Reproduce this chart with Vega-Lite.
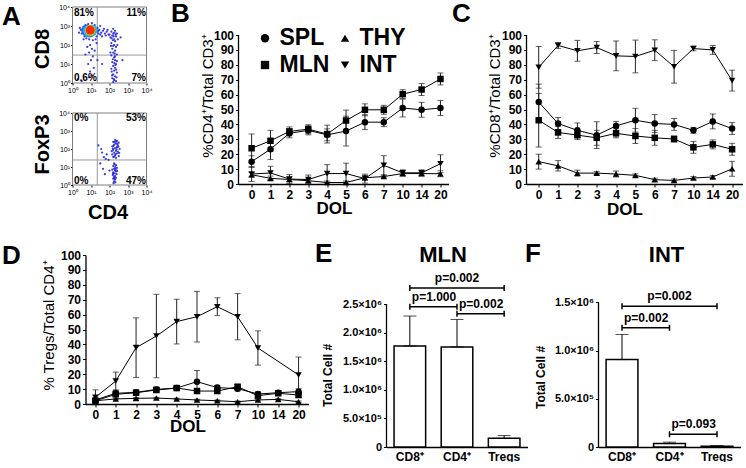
{
"$schema": "https://vega.github.io/schema/vega-lite/v6.json",
"padding": {"left": 1.5, "top": 1, "right": 0, "bottom": 0},
"background": "white",
"config": {
  "view": {"stroke": null},
  "font": "Liberation Sans",
  "axis": {"labelFont": "Liberation Sans", "titleFont": "Liberation Sans", "labelColor": "black", "titleColor": "black", "domainColor": "black", "tickColor": "black", "grid": false, "labelFontSize": 12, "labelFontWeight": "bold", "tickSize": 3, "labelPadding": 2, "labelOverlap": false, "labelFlush": false, "domainWidth": 1.3, "tickWidth": 1},
  "title": {"anchor": "start", "frame": "group", "offset": 0, "baseline": "alphabetic", "fontSize": 26, "fontWeight": "bold", "font": "Liberation Sans", "color": "black"},
  "text": {"font": "Liberation Sans", "color": "black"}
},
"datasets": {
  "pct": [
    {"p":"B","t":"SPL","d":0,"v":15,"e":4},{"p":"B","t":"SPL","d":1,"v":23.4,"e":7},{"p":"B","t":"SPL","d":2,"v":34,"e":3},{"p":"B","t":"SPL","d":3,"v":36,"e":3},{"p":"B","t":"SPL","d":4,"v":33,"e":4},{"p":"B","t":"SPL","d":5,"v":35.5,"e":10},{"p":"B","t":"SPL","d":6,"v":41.5,"e":5},{"p":"B","t":"SPL","d":7,"v":41.5,"e":3},{"p":"B","t":"SPL","d":10,"v":51,"e":6},{"p":"B","t":"SPL","d":14,"v":49.8,"e":5},{"p":"B","t":"SPL","d":20,"v":51,"e":5},
    {"p":"B","t":"MLN","d":0,"v":24,"e":9.5},{"p":"B","t":"MLN","d":1,"v":29,"e":7},{"p":"B","t":"MLN","d":2,"v":35.3,"e":3},{"p":"B","t":"MLN","d":3,"v":36.8,"e":3},{"p":"B","t":"MLN","d":4,"v":33.5,"e":6},{"p":"B","t":"MLN","d":5,"v":42.6,"e":7},{"p":"B","t":"MLN","d":6,"v":49.8,"e":4},{"p":"B","t":"MLN","d":7,"v":49.8,"e":3},{"p":"B","t":"MLN","d":10,"v":60.3,"e":3},{"p":"B","t":"MLN","d":14,"v":63.4,"e":4},{"p":"B","t":"MLN","d":20,"v":70.5,"e":4},
    {"p":"B","t":"THY","d":0,"v":6.2,"e":1.5},{"p":"B","t":"THY","d":1,"v":3.8,"e":1.5},{"p":"B","t":"THY","d":2,"v":3,"e":1.5},{"p":"B","t":"THY","d":3,"v":2.2,"e":1},{"p":"B","t":"THY","d":4,"v":1,"e":1},{"p":"B","t":"THY","d":5,"v":1,"e":1},{"p":"B","t":"THY","d":6,"v":4.2,"e":1.5},{"p":"B","t":"THY","d":7,"v":5,"e":1},{"p":"B","t":"THY","d":10,"v":7,"e":1},{"p":"B","t":"THY","d":14,"v":7,"e":1},{"p":"B","t":"THY","d":20,"v":6.9,"e":2},
    {"p":"B","t":"INT","d":0,"v":6.7,"e":5},{"p":"B","t":"INT","d":1,"v":7.4,"e":4.5},{"p":"B","t":"INT","d":2,"v":3.3,"e":3},{"p":"B","t":"INT","d":3,"v":3,"e":3},{"p":"B","t":"INT","d":4,"v":7,"e":6},{"p":"B","t":"INT","d":5,"v":7,"e":7},{"p":"B","t":"INT","d":6,"v":3.6,"e":3},{"p":"B","t":"INT","d":7,"v":12.5,"e":6.5},{"p":"B","t":"INT","d":10,"v":7.5,"e":2},{"p":"B","t":"INT","d":14,"v":7.5,"e":2},{"p":"B","t":"INT","d":20,"v":13.6,"e":6},
    {"p":"C","t":"INT","d":0,"v":78.3,"e":14},{"p":"C","t":"INT","d":1,"v":93,"e":2},{"p":"C","t":"INT","d":2,"v":89.4,"e":7},{"p":"C","t":"INT","d":3,"v":91.6,"e":4},{"p":"C","t":"INT","d":4,"v":86,"e":10},{"p":"C","t":"INT","d":5,"v":85.6,"e":11},{"p":"C","t":"INT","d":6,"v":89.8,"e":7},{"p":"C","t":"INT","d":7,"v":78.7,"e":11},{"p":"C","t":"INT","d":10,"v":90.9,"e":1.5},{"p":"C","t":"INT","d":14,"v":90,"e":3},{"p":"C","t":"INT","d":20,"v":69.4,"e":7},
    {"p":"C","t":"SPL","d":0,"v":55,"e":12},{"p":"C","t":"SPL","d":1,"v":40.6,"e":4},{"p":"C","t":"SPL","d":2,"v":36,"e":5},{"p":"C","t":"SPL","d":3,"v":32.8,"e":9},{"p":"C","t":"SPL","d":4,"v":39,"e":3},{"p":"C","t":"SPL","d":5,"v":42.8,"e":8},{"p":"C","t":"SPL","d":6,"v":40.6,"e":6},{"p":"C","t":"SPL","d":7,"v":40,"e":4},{"p":"C","t":"SPL","d":10,"v":36,"e":2},{"p":"C","t":"SPL","d":14,"v":42,"e":5},{"p":"C","t":"SPL","d":20,"v":37.2,"e":4},
    {"p":"C","t":"MLN","d":0,"v":42.8,"e":18},{"p":"C","t":"MLN","d":1,"v":34.6,"e":4},{"p":"C","t":"MLN","d":2,"v":32.8,"e":3},{"p":"C","t":"MLN","d":3,"v":31,"e":5},{"p":"C","t":"MLN","d":4,"v":34,"e":3},{"p":"C","t":"MLN","d":5,"v":32.2,"e":5},{"p":"C","t":"MLN","d":6,"v":31,"e":5},{"p":"C","t":"MLN","d":7,"v":30.2,"e":2},{"p":"C","t":"MLN","d":10,"v":24.6,"e":4},{"p":"C","t":"MLN","d":14,"v":26.6,"e":3},{"p":"C","t":"MLN","d":20,"v":23.3,"e":4},
    {"p":"C","t":"THY","d":0,"v":15,"e":5},{"p":"C","t":"THY","d":1,"v":12.2,"e":3.5},{"p":"C","t":"THY","d":2,"v":7.3,"e":2},{"p":"C","t":"THY","d":3,"v":7.3,"e":1},{"p":"C","t":"THY","d":4,"v":6.7,"e":2},{"p":"C","t":"THY","d":5,"v":5.8,"e":1},{"p":"C","t":"THY","d":6,"v":2.9,"e":1},{"p":"C","t":"THY","d":7,"v":2.4,"e":1},{"p":"C","t":"THY","d":10,"v":4,"e":1},{"p":"C","t":"THY","d":14,"v":4.7,"e":1},{"p":"C","t":"THY","d":20,"v":10.2,"e":5},
    {"p":"D","t":"INT","d":0,"v":4.5,"e":5},{"p":"D","t":"INT","d":1,"v":15.4,"e":6},{"p":"D","t":"INT","d":2,"v":37.8,"e":20},{"p":"D","t":"INT","d":3,"v":45.6,"e":28},{"p":"D","t":"INT","d":4,"v":55.3,"e":15},{"p":"D","t":"INT","d":5,"v":58.6,"e":17},{"p":"D","t":"INT","d":6,"v":65.3,"e":6},{"p":"D","t":"INT","d":7,"v":58.6,"e":15.5},{"p":"D","t":"INT","d":10,"v":37.6,"e":11.5},{"p":"D","t":"INT","d":20,"v":19.5,"e":12},
    {"p":"D","t":"SPL","d":0,"v":2.7,"e":1},{"p":"D","t":"SPL","d":1,"v":7.2,"e":2},{"p":"D","t":"SPL","d":2,"v":7.8,"e":1.5},{"p":"D","t":"SPL","d":3,"v":9.8,"e":1.5},{"p":"D","t":"SPL","d":4,"v":10.7,"e":1.5},{"p":"D","t":"SPL","d":5,"v":15,"e":7.5},{"p":"D","t":"SPL","d":6,"v":11,"e":1.5},{"p":"D","t":"SPL","d":7,"v":10.3,"e":1.5},{"p":"D","t":"SPL","d":10,"v":6.7,"e":1.5},{"p":"D","t":"SPL","d":14,"v":7.6,"e":1.5},{"p":"D","t":"SPL","d":20,"v":8.3,"e":2},
    {"p":"D","t":"MLN","d":0,"v":2.2,"e":1},{"p":"D","t":"MLN","d":1,"v":6.5,"e":1.5},{"p":"D","t":"MLN","d":2,"v":7.6,"e":1},{"p":"D","t":"MLN","d":3,"v":9.4,"e":1.5},{"p":"D","t":"MLN","d":4,"v":10.7,"e":1},{"p":"D","t":"MLN","d":5,"v":8.7,"e":1.5},{"p":"D","t":"MLN","d":6,"v":8.7,"e":1.5},{"p":"D","t":"MLN","d":7,"v":11.6,"e":1.5},{"p":"D","t":"MLN","d":10,"v":5.6,"e":1},{"p":"D","t":"MLN","d":14,"v":7.2,"e":1},{"p":"D","t":"MLN","d":20,"v":6,"e":1.5},
    {"p":"D","t":"THY","d":0,"v":2.2,"e":0.5},{"p":"D","t":"THY","d":1,"v":3.4,"e":0.5},{"p":"D","t":"THY","d":2,"v":3.8,"e":0.5},{"p":"D","t":"THY","d":3,"v":4,"e":0.5},{"p":"D","t":"THY","d":4,"v":3.4,"e":0.5},{"p":"D","t":"THY","d":5,"v":2.7,"e":0.5},{"p":"D","t":"THY","d":6,"v":2.2,"e":0.5},{"p":"D","t":"THY","d":7,"v":1.5,"e":0.5},{"p":"D","t":"THY","d":10,"v":2.7,"e":0.5},{"p":"D","t":"THY","d":14,"v":3.1,"e":0.5},{"p":"D","t":"THY","d":20,"v":1.5,"e":0.5}
  ],
  "bars": [
    {"p":"E","cell":"CD8⁺","m":1766000,"hi":2290000},{"p":"E","cell":"CD4⁺","m":1750000,"hi":2230000},{"p":"E","cell":"Tregs","m":152000,"hi":200000},
    {"p":"F","cell":"CD8⁺","m":907000,"hi":1167000},{"p":"F","cell":"CD4⁺","m":35000,"hi":50000},{"p":"F","cell":"Tregs","m":8000,"hi":14000}
  ],
  "brk": [
    {"p":"E","from":"CD8⁺","to":"Tregs","y":2780000,"label":"p=0.002","at":"CD4⁺","ta":"c"},
    {"p":"E","from":"CD8⁺","to":"CD4⁺","y":2450000,"label":"p=1.000","at":"CD8⁺","ta":"l"},
    {"p":"E","from":"CD4⁺","to":"Tregs","y":2330000,"label":"p=0.002","at":"CD4⁺","ta":"l"},
    {"p":"F","from":"CD8⁺","to":"Tregs","y":1460000,"label":"p=0.002","at":"CD4⁺","ta":"c"},
    {"p":"F","from":"CD8⁺","to":"CD4⁺","y":1236000,"label":"p=0.002","at":"CD8⁺","ta":"l"},
    {"p":"F","from":"CD4⁺","to":"Tregs","y":132000,"label":"p=0.093","at":"CD4⁺","ta":"l"}
  ],
  "heads": [{"p":"E","name":"MLN"},{"p":"F","name":"INT"}],
  "atitles": [{"plot":"top","ttl":"CD8"},{"plot":"bot","ttl":"FoxP3"}],
  "gates": [
    {"plot":"top","c":"TL","pct":"81%"},{"plot":"top","c":"TR","pct":"11%"},{"plot":"top","c":"BL","pct":"0.6%"},{"plot":"top","c":"BR","pct":"7%"},
    {"plot":"bot","c":"TL","pct":"0%"},{"plot":"bot","c":"TR","pct":"53%"},{"plot":"bot","c":"BL","pct":"0%"},{"plot":"bot","c":"BR","pct":"47%"}
  ],
  "blob": [
    {"x":0.93,"y":2.72,"d":1},{"x":0.8,"y":2.76,"d":1},{"x":0.88,"y":2.74,"d":2},{"x":1.04,"y":2.77,"d":2},{"x":0.97,"y":2.76,"d":3},{"x":0.96,"y":2.77,"d":4},{"x":0.96,"y":2.78,"d":5}
  ],
  "ftop": [
    {"x":2.1,"y":2.7},{"x":2.2,"y":2.6},{"x":2.3,"y":2.75},{"x":2.15,"y":2.5},{"x":2.35,"y":2.45},{"x":2.25,"y":2.3},{"x":2.05,"y":2.4},{"x":2.4,"y":2.6},{"x":2.2,"y":2.85},{"x":2.3,"y":2.2},{"x":2.1,"y":2.1},{"x":2.25,"y":2.0},{"x":2.35,"y":1.9},{"x":2.15,"y":1.8},{"x":2.3,"y":1.7},{"x":2.2,"y":1.6},{"x":2.4,"y":1.5},{"x":2.1,"y":1.45},{"x":2.25,"y":1.35},{"x":2.3,"y":1.2},{"x":2.15,"y":1.1},{"x":2.35,"y":1.0},{"x":2.2,"y":0.9},{"x":2.3,"y":0.8},{"x":2.1,"y":0.75},{"x":2.25,"y":0.65},{"x":2.4,"y":0.55},{"x":2.2,"y":0.45},{"x":2.3,"y":0.35},{"x":2.15,"y":0.25},{"x":2.25,"y":0.15},{"x":2.35,"y":0.1},{"x":2.2,"y":0.05},{"x":2.28,"y":1.55},{"x":2.18,"y":1.25},{"x":2.32,"y":0.95},{"x":2.12,"y":0.6},{"x":2.38,"y":0.3},{"x":2.05,"y":1.6},{"x":2.45,"y":2.3},{"x":2.0,"y":2.55},{"x":2.27,"y":2.65},{"x":2.42,"y":2.0},{"x":2.08,"y":1.95},{"x":2.22,"y":2.45},{"x":2.33,"y":2.55},{"x":2.18,"y":2.25},{"x":2.26,"y":1.05},{"x":2.14,"y":0.4},{"x":2.36,"y":0.7},{"x":2.24,"y":0.2},{"x":2.3,"y":1.4},{"x":2.2,"y":1.95},{"x":2.12,"y":2.35},{"x":2.4,"y":1.15},
    {"x":1.35,"y":2.7},{"x":1.45,"y":2.8},{"x":1.55,"y":2.65},{"x":1.65,"y":2.75},{"x":1.75,"y":2.6},{"x":1.85,"y":2.7},{"x":1.95,"y":2.55},{"x":1.5,"y":2.55},{"x":1.7,"y":2.85},{"x":1.8,"y":2.5},{"x":1.6,"y":2.45},{"x":1.9,"y":2.8},{"x":1.4,"y":2.6},{"x":1.3,"y":2.85},
    {"x":0.45,"y":2.8},{"x":0.5,"y":2.6},{"x":0.6,"y":2.95},{"x":0.65,"y":2.45},{"x":0.7,"y":3.05},{"x":0.75,"y":2.35},{"x":1.2,"y":3.05},{"x":1.3,"y":2.45},{"x":1.35,"y":2.9},{"x":1.25,"y":2.3},{"x":0.55,"y":2.7},{"x":1.4,"y":2.75},{"x":0.85,"y":3.1},{"x":1.05,"y":3.15},{"x":0.9,"y":2.3},{"x":1.1,"y":2.25},{"x":0.4,"y":2.9},{"x":0.35,"y":2.65},{"x":1.5,"y":3.0},{"x":0.6,"y":2.3},
    {"x":0.95,"y":2.0},{"x":1.05,"y":1.8},{"x":0.9,"y":1.6},{"x":1.1,"y":1.4},{"x":1.0,"y":1.2},{"x":0.85,"y":1.0},{"x":1.15,"y":0.8},{"x":0.95,"y":0.6},{"x":1.05,"y":0.4},{"x":0.8,"y":1.9},{"x":1.2,"y":1.7},{"x":0.9,"y":0.3},{"x":0.7,"y":1.5},{"x":1.3,"y":2.1},{"x":1.35,"y":1.2},
    {"x":0.3,"y":0.2},{"x":0.5,"y":0.1},{"x":2.6,"y":2.4},{"x":2.7,"y":1.2},{"x":1.6,"y":1.0}
  ],
  "fbot": [
    {"x":2.3,"y":2.5},{"x":2.4,"y":2.45},{"x":2.2,"y":2.4},{"x":2.5,"y":2.35},{"x":2.35,"y":2.3},{"x":2.25,"y":2.25},{"x":2.45,"y":2.2},{"x":2.15,"y":2.15},{"x":2.4,"y":2.1},{"x":2.3,"y":2.05},{"x":2.55,"y":2.0},{"x":2.2,"y":1.95},{"x":2.35,"y":1.9},{"x":2.45,"y":1.85},{"x":2.25,"y":1.8},{"x":2.4,"y":1.75},{"x":2.15,"y":1.7},{"x":2.3,"y":1.65},{"x":2.5,"y":1.6},{"x":2.2,"y":1.55},{"x":2.35,"y":1.5},{"x":2.28,"y":2.38},{"x":2.42,"y":2.28},{"x":2.18,"y":2.02},{"x":2.38,"y":1.98},{"x":2.32,"y":1.72},{"x":2.48,"y":2.12},{"x":2.26,"y":1.58},{"x":2.12,"y":1.88},{"x":2.52,"y":1.78},{"x":2.36,"y":2.42},{"x":2.22,"y":2.18},
    {"x":2.25,"y":1.2},{"x":2.35,"y":1.1},{"x":2.2,"y":1.05},{"x":2.3,"y":1.0},{"x":2.4,"y":0.95},{"x":2.25,"y":0.9},{"x":2.15,"y":0.85},{"x":2.3,"y":0.8},{"x":2.35,"y":0.75},{"x":2.2,"y":0.7},{"x":2.28,"y":0.65},{"x":2.38,"y":0.6},{"x":2.18,"y":0.55},{"x":2.3,"y":0.5},{"x":2.25,"y":0.45},{"x":2.35,"y":0.4},{"x":2.2,"y":0.35},{"x":2.3,"y":0.3},{"x":2.25,"y":0.2},{"x":2.32,"y":0.15},{"x":2.22,"y":0.1},{"x":2.27,"y":1.15},{"x":2.33,"y":0.88},{"x":2.19,"y":0.62},{"x":2.41,"y":0.78},{"x":2.26,"y":0.38},
    {"x":1.4,"y":2.2},{"x":1.55,"y":2.0},{"x":1.6,"y":1.8},{"x":1.7,"y":1.55},{"x":1.8,"y":1.45},{"x":1.5,"y":1.2},{"x":1.65,"y":0.9},{"x":1.75,"y":0.6},{"x":1.85,"y":1.7},{"x":1.95,"y":1.4},{"x":2.0,"y":0.8}
  ]
},
"spacing": 19,
"resolve": {"scale": {"shape": "independent", "color": "independent", "size": "independent"}},
"vconcat": [
 {
  "columns": 5, "spacing": 0, "bounds": "flush", "align": "each",
  "resolve": {"scale": {"shape": "independent", "color": "independent", "size": "independent"}},
  "concat": [
  {
    "width": 74, "height": 178,
    "title": {"text": "A", "dx": -70.5, "dy": 30.5},
    "layer": [
      {
        "encoding": {
          "x": {"type": "quantitative", "scale": {"domain": [0, 4], "nice": false, "zero": false}, "axis": {"orient": "bottom", "offset": -102, "values": [0,1,2,3,4], "labelExpr": "'10' + ['⁰','¹','²','³','⁴'][datum.value]", "title": null, "domain": false, "labelFontSize": 7, "labelFontWeight": "normal", "tickSize": 2, "labelPadding": 1}},
          "y": {"type": "quantitative", "scale": {"domain": [-5.368, 4], "nice": false, "zero": false}, "axis": {"orient": "left", "values": [0,1,2,3,4], "labelExpr": "'10' + ['⁰','¹','²','³','⁴'][datum.value]", "domain": false, "title": null, "labelFontSize": 7, "labelFontWeight": "normal", "tickSize": 2, "labelPadding": 1}}
        },
        "layer": [
          {"data": {"values": [{"f": 1}]}, "mark": {"type": "rect", "fillOpacity": 0, "stroke": "#7f7f7f", "strokeWidth": 1}, "encoding": {"x": {"datum": 0}, "x2": {"datum": 4}, "y": {"datum": 0}, "y2": {"datum": 4}}},
          {"data": {"values": [{"g": 1}]}, "mark": {"type": "rule", "color": "#9a9a9a", "strokeWidth": 1}, "encoding": {"x": {"datum": 1.34}, "y": {"datum": 0}, "y2": {"datum": 4}}},
          {"data": {"values": [{"g": 1}]}, "mark": {"type": "rule", "color": "#9a9a9a", "strokeWidth": 1}, "encoding": {"x": {"datum": 0}, "x2": {"datum": 4}, "y": {"datum": 1.47}}},
          {"data": {"name": "ftop"}, "mark": {"type": "circle", "size": 5, "color": "#2626d9", "opacity": 0.9}, "encoding": {"x": {"field": "x"}, "y": {"field": "y"}}},
          {"data": {"name": "blob"}, "mark": {"type": "circle", "opacity": 1}, "encoding": {"x": {"field": "x"}, "y": {"field": "y"}, "size": {"field": "d", "type": "ordinal", "scale": {"domain": [1,2,3,4,5], "range": [150, 85, 50, 24, 9]}, "legend": null}, "color": {"field": "d", "type": "ordinal", "scale": {"domain": [1,2,3,4,5], "range": ["#3a5cf0","#22b4f0","#3ccf3c","#f2ea1a","#ff2a00"]}, "legend": null}}},
          {"data": {"name": "gates"}, "transform": [{"filter": "datum.plot == 'top' && datum.c == 'TL'"}], "mark": {"type": "text", "align": "left", "baseline": "middle", "fontSize": 10, "fontWeight": "bold"}, "encoding": {"x": {"datum": 0.08}, "y": {"datum": 3.71}, "text": {"field": "pct"}}},
          {"data": {"name": "gates"}, "transform": [{"filter": "datum.plot == 'top' && datum.c == 'TR'"}], "mark": {"type": "text", "align": "right", "baseline": "middle", "fontSize": 10, "fontWeight": "bold"}, "encoding": {"x": {"datum": 3.97}, "y": {"datum": 3.71}, "text": {"field": "pct"}}},
          {"data": {"name": "gates"}, "transform": [{"filter": "datum.plot == 'top' && datum.c == 'BL'"}], "mark": {"type": "text", "align": "left", "baseline": "middle", "fontSize": 10, "fontWeight": "bold"}, "encoding": {"x": {"datum": 0.08}, "y": {"datum": 0.25}, "text": {"field": "pct"}}},
          {"data": {"name": "gates"}, "transform": [{"filter": "datum.plot == 'top' && datum.c == 'BR'"}], "mark": {"type": "text", "align": "right", "baseline": "middle", "fontSize": 10, "fontWeight": "bold"}, "encoding": {"x": {"datum": 3.97}, "y": {"datum": 0.25}, "text": {"field": "pct"}}},
          {"data": {"name": "atitles"}, "transform": [{"filter": "datum.plot == 'top'"}], "mark": {"type": "text", "angle": 270, "align": "center", "baseline": "middle", "fontSize": 20, "fontWeight": "bold"}, "encoding": {"x": {"datum": -1.57}, "y": {"datum": 1.79}, "text": {"field": "ttl"}}}
        ]
      },
      {
        "encoding": {
          "x": {"type": "quantitative", "scale": {"domain": [0, 4], "nice": false, "zero": false}, "axis": {"orient": "bottom", "values": [0,1,2,3,4], "labelExpr": "'10' + ['⁰','¹','²','³','⁴'][datum.value]", "title": "CD4", "titleFontSize": 20, "titleFontWeight": "bold", "titleX": 35, "titleY": 27, "titleAlign": "center", "titleBaseline": "middle", "domain": false, "labelFontSize": 7, "labelFontWeight": "normal", "tickSize": 2, "labelPadding": 1}},
          "y": {"type": "quantitative", "scale": {"domain": [0, 9.889], "nice": false, "zero": false}, "axis": {"orient": "left", "values": [0,1,2,3,4], "labelExpr": "'10' + ['⁰','¹','²','³','⁴'][datum.value]", "domain": false, "title": null, "labelFontSize": 7, "labelFontWeight": "normal", "tickSize": 2, "labelPadding": 1}}
        },
        "layer": [
          {"data": {"values": [{"f": 1}]}, "mark": {"type": "rect", "fillOpacity": 0, "stroke": "#7f7f7f", "strokeWidth": 1}, "encoding": {"x": {"datum": 0}, "x2": {"datum": 4}, "y": {"datum": 0}, "y2": {"datum": 4}}},
          {"data": {"values": [{"g": 1}]}, "mark": {"type": "rule", "color": "#9a9a9a", "strokeWidth": 1}, "encoding": {"x": {"datum": 1.34}, "y": {"datum": 0}, "y2": {"datum": 4}}},
          {"data": {"values": [{"g": 1}]}, "mark": {"type": "rule", "color": "#9a9a9a", "strokeWidth": 1}, "encoding": {"x": {"datum": 0}, "x2": {"datum": 4}, "y": {"datum": 1.39}}},
          {"data": {"name": "fbot"}, "mark": {"type": "circle", "size": 5, "color": "#2626d9", "opacity": 0.9}, "encoding": {"x": {"field": "x"}, "y": {"field": "y"}}},
          {"data": {"name": "gates"}, "transform": [{"filter": "datum.plot == 'bot' && datum.c == 'TL'"}], "mark": {"type": "text", "align": "left", "baseline": "middle", "fontSize": 10, "fontWeight": "bold"}, "encoding": {"x": {"datum": 0.08}, "y": {"datum": 3.75}, "text": {"field": "pct"}}},
          {"data": {"name": "gates"}, "transform": [{"filter": "datum.plot == 'bot' && datum.c == 'TR'"}], "mark": {"type": "text", "align": "right", "baseline": "middle", "fontSize": 10, "fontWeight": "bold"}, "encoding": {"x": {"datum": 3.97}, "y": {"datum": 3.75}, "text": {"field": "pct"}}},
          {"data": {"name": "gates"}, "transform": [{"filter": "datum.plot == 'bot' && datum.c == 'BL'"}], "mark": {"type": "text", "align": "left", "baseline": "middle", "fontSize": 10, "fontWeight": "bold"}, "encoding": {"x": {"datum": 0.08}, "y": {"datum": 0.25}, "text": {"field": "pct"}}},
          {"data": {"name": "gates"}, "transform": [{"filter": "datum.plot == 'bot' && datum.c == 'BR'"}], "mark": {"type": "text", "align": "right", "baseline": "middle", "fontSize": 10, "fontWeight": "bold"}, "encoding": {"x": {"datum": 3.97}, "y": {"datum": 0.25}, "text": {"field": "pct"}}},
          {"data": {"name": "atitles"}, "transform": [{"filter": "datum.plot == 'bot'"}], "mark": {"type": "text", "angle": 270, "align": "center", "baseline": "middle", "fontSize": 20, "fontWeight": "bold"}, "encoding": {"x": {"datum": -1.57}, "y": {"datum": 2.25}, "text": {"field": "ttl"}}}
        ]
      }
    ],
    "resolve": {"scale": {"x": "independent", "y": "independent"}}
  },
  {"width": 92, "height": 1, "data": {"values": [{"s": 0}]}, "mark": {"type": "point", "opacity": 0}},
  {
    "width": 210, "height": 177,
    "title": {"text": "B", "dx": -67.5, "dy": 24},
    "layer": [
      {
        "data": {"name": "pct"},
        "transform": [{"filter": "datum.p == 'B'"}],
        "encoding": {
          "x": {"field": "d", "type": "ordinal", "scale": {"type": "point", "padding": 0.56, "align": 0.62}, "axis": {"title": "DOL", "titleX": 95.5, "titleY": 24, "titleAlign": "center", "titleBaseline": "middle", "labelAngle": 0, "titleFontSize": 17, "titleFontWeight": "bold"}},
          "y": {"field": "v", "type": "quantitative", "scale": {"domain": [0, 118.8], "nice": false}, "axis": {"values": [0,10,20,30,40,50,60,70,80,90,100], "domain": false, "title": "%CD4⁺/Total CD3⁺", "titleFontSize": 15, "titleFontWeight": "normal", "titleX": -31, "titleY": 88.5, "titleAlign": "center", "titleBaseline": "middle", "titleAngle": 270}}
        },
        "layer": [
          {"mark": {"type": "errorbar", "ticks": {"size": 6}, "color": "#222"}, "encoding": {"yError": {"field": "e"}}},
          {"mark": {"type": "line", "color": "black", "strokeWidth": 1}, "encoding": {"detail": {"field": "t"}}},
          {"mark": {"type": "point", "filled": true, "color": "black", "size": 42, "opacity": 1}, "encoding": {"shape": {"field": "t", "type": "nominal", "scale": {"domain": ["SPL","MLN","THY","INT"], "range": ["circle","square","triangle-up","triangle-down"]}, "legend": {"orient": "none", "legendX": 15, "legendY": 19.5, "columns": 2, "title": null, "labelFontSize": 23, "labelFontWeight": "bold", "labelFont": "Liberation Sans", "labelColor": "black", "symbolSize": 70, "symbolFillColor": "black", "symbolStrokeColor": "black", "symbolStrokeWidth": 0, "columnPadding": 4, "rowPadding": 3, "labelOffset": 3, "padding": 0}}}}
        ]
      },
      {"data": {"values": [{"a": 0}]}, "mark": {"type": "rule", "color": "black", "strokeWidth": 1.3}, "encoding": {"x": {"datum": 0, "type": "quantitative", "scale": {"domain": [0, 1]}, "axis": null}, "y": {"datum": 0, "type": "quantitative", "scale": {"domain": [0, 118.8], "nice": false}, "axis": null}, "y2": {"datum": 100}}}
    ],
    "resolve": {"scale": {"x": "independent", "y": "independent"}}
  },
  {"width": 78, "height": 1, "data": {"values": [{"s": 0}]}, "mark": {"type": "point", "opacity": 0}},
  {
    "width": 216, "height": 177,
    "title": {"text": "C", "dx": -74.5, "dy": 24},
    "layer": [
      {
        "data": {"name": "pct"},
        "transform": [{"filter": "datum.p == 'C'"}],
        "encoding": {
          "x": {"field": "d", "type": "ordinal", "scale": {"type": "point", "padding": 0.585, "align": 0.54}, "axis": {"title": "DOL", "titleX": 98, "titleY": 25, "titleAlign": "center", "titleBaseline": "middle", "labelAngle": 0, "titleFontSize": 17, "titleFontWeight": "bold"}},
          "y": {"field": "v", "type": "quantitative", "scale": {"domain": [0, 118.8], "nice": false}, "axis": {"values": [0,10,20,30,40,50,60,70,80,90,100], "domain": false, "title": "%CD8⁺/Total CD3⁺", "titleFontSize": 15, "titleFontWeight": "normal", "titleX": -32, "titleY": 88.5, "titleAlign": "center", "titleBaseline": "middle", "titleAngle": 270}}
        },
        "layer": [
          {"mark": {"type": "errorbar", "ticks": {"size": 6}, "color": "#222"}, "encoding": {"yError": {"field": "e"}}},
          {"mark": {"type": "line", "color": "black", "strokeWidth": 1}, "encoding": {"detail": {"field": "t"}}},
          {"mark": {"type": "point", "filled": true, "color": "black", "size": 42, "opacity": 1}, "encoding": {"shape": {"field": "t", "type": "nominal", "scale": {"domain": ["SPL","MLN","THY","INT"], "range": ["circle","square","triangle-up","triangle-down"]}, "legend": null}}}
        ]
      },
      {"data": {"values": [{"a": 0}]}, "mark": {"type": "rule", "color": "black", "strokeWidth": 1.3}, "encoding": {"x": {"datum": 0, "type": "quantitative", "scale": {"domain": [0, 1]}, "axis": null}, "y": {"datum": 0, "type": "quantitative", "scale": {"domain": [0, 118.8], "nice": false}, "axis": null}, "y2": {"datum": 100}}}
    ],
    "resolve": {"scale": {"x": "independent", "y": "independent"}}
  }
  ]
 },
 {
  "columns": 6, "spacing": 0, "bounds": "flush", "align": "each",
  "resolve": {"scale": {"shape": "independent", "color": "independent", "size": "independent"}},
  "concat": [
  {"width": 13, "height": 1, "data": {"values": [{"s": 0}]}, "mark": {"type": "point", "opacity": 0}},
  {
    "width": 223, "height": 149,
    "title": {"text": "D", "dx": -83.5, "dy": 24},
    "data": {"name": "pct"},
    "transform": [{"filter": "datum.p == 'D'"}],
    "encoding": {
      "x": {"field": "d", "type": "ordinal", "scale": {"type": "point", "padding": 0.49, "align": 0.5}, "axis": {"title": "DOL", "titleX": 102, "titleY": 22, "titleAlign": "center", "titleBaseline": "middle", "labelAngle": 0, "titleFontSize": 17, "titleFontWeight": "bold"}},
      "y": {"field": "v", "type": "quantitative", "scale": {"domain": [0, 100], "nice": false}, "axis": {"values": [0,10,20,30,40,50,60,70,80,90,100], "title": "% Tregs/Total CD4⁺", "titleFontSize": 15, "titleFontWeight": "normal", "titleX": -37, "titleY": 70, "titleAlign": "center", "titleBaseline": "middle", "titleAngle": 270}}
    },
    "layer": [
      {"mark": {"type": "errorbar", "ticks": {"size": 6}, "color": "#222"}, "encoding": {"yError": {"field": "e"}}},
      {"mark": {"type": "line", "color": "black", "strokeWidth": 1}, "encoding": {"detail": {"field": "t"}}},
      {"mark": {"type": "point", "filled": true, "color": "black", "size": 42, "opacity": 1}, "encoding": {"shape": {"field": "t", "type": "nominal", "scale": {"domain": ["SPL","MLN","THY","INT"], "range": ["circle","square","triangle-up","triangle-down"]}, "legend": null}}}
    ]
  },
  {"width": 78, "height": 1, "data": {"values": [{"s": 0}]}, "mark": {"type": "point", "opacity": 0}},
  {
    "width": 141, "height": 192,
    "title": {"text": "E", "dx": -71.5, "dy": 27},
    "layer": [
      {
        "encoding": {
          "x": {"type": "nominal", "scale": {"domain": ["CD8⁺","CD4⁺","Tregs"], "paddingInner": 0.33, "paddingOuter": 0.16}, "axis": {"title": null, "labelAngle": 0, "ticks": false, "labelFontSize": 12, "labelPadding": 4}},
          "y": {"type": "quantitative", "scale": {"domain": [0, 3357000], "nice": false}, "axis": {"values": [0, 500000, 1000000, 1500000, 2000000, 2500000], "labelExpr": "datum.value == 0 ? '0' : datum.value >= 1000000 ? format(datum.value / 1000000, '.1f') + '×10⁶' : format(datum.value / 100000, '.1f') + '×10⁵'", "domain": false, "title": "Total Cell #", "titleFontSize": 12, "titleFontWeight": "bold", "titleX": -59, "titleY": 120, "titleAlign": "center", "titleBaseline": "middle", "titleAngle": 270, "labelFontSize": 11}}
        },
        "layer": [
          {"data": {"name": "bars"}, "transform": [{"filter": "datum.p == 'E'"}], "mark": {"type": "bar", "fill": "white", "stroke": "black", "strokeWidth": 1.5}, "encoding": {"x": {"field": "cell"}, "y": {"field": "m"}}},
          {"data": {"name": "bars"}, "transform": [{"filter": "datum.p == 'E'"}], "mark": {"type": "errorbar", "ticks": {"size": 13}, "color": "black"}, "encoding": {"x": {"field": "cell"}, "y": {"field": "m"}, "y2": {"field": "hi"}}},
          {"data": {"name": "brk"}, "transform": [{"filter": "datum.p == 'E'"}], "mark": {"type": "rule", "color": "black", "strokeWidth": 1.5}, "encoding": {"x": {"field": "from"}, "x2": {"field": "to"}, "y": {"field": "y"}}},
          {"data": {"name": "brk"}, "transform": [{"filter": "datum.p == 'E'"}], "mark": {"type": "point", "shape": "M0,-1L0,1", "size": 36, "filled": false, "color": "black", "strokeWidth": 1.5, "opacity": 1}, "encoding": {"x": {"field": "from"}, "y": {"field": "y"}}},
          {"data": {"name": "brk"}, "transform": [{"filter": "datum.p == 'E'"}], "mark": {"type": "point", "shape": "M0,-1L0,1", "size": 36, "filled": false, "color": "black", "strokeWidth": 1.5, "opacity": 1}, "encoding": {"x": {"field": "to"}, "y": {"field": "y"}}},
          {"data": {"name": "brk"}, "transform": [{"filter": "datum.p == 'E' && datum.ta == 'c'"}], "mark": {"type": "text", "align": "center", "baseline": "middle", "dy": -10, "fontSize": 12, "fontWeight": "bold"}, "encoding": {"x": {"field": "at"}, "y": {"field": "y"}, "text": {"field": "label"}}},
          {"data": {"name": "brk"}, "transform": [{"filter": "datum.p == 'E' && datum.ta == 'l'"}], "mark": {"type": "text", "align": "left", "baseline": "middle", "dx": 2, "dy": -10, "fontSize": 12, "fontWeight": "bold"}, "encoding": {"x": {"field": "at"}, "y": {"field": "y"}, "text": {"field": "label"}}},
          {"data": {"name": "heads"}, "transform": [{"filter": "datum.p == 'E'"}], "mark": {"type": "text", "align": "center", "baseline": "middle", "dx": -14, "fontSize": 22, "fontWeight": "bold"}, "encoding": {"x": {"datum": "CD4⁺"}, "y": {"datum": 3357000}, "text": {"field": "name"}}}
        ]
      },
      {"data": {"values": [{"a": 0}]}, "mark": {"type": "rule", "color": "black", "strokeWidth": 1.3}, "encoding": {"x": {"datum": 0, "type": "quantitative", "scale": {"domain": [0, 1]}, "axis": null}, "y": {"datum": 0, "type": "quantitative", "scale": {"domain": [0, 3357000], "nice": false}, "axis": null}, "y2": {"datum": 2500000}}}
    ],
    "resolve": {"scale": {"x": "independent", "y": "independent"}}
  },
  {"width": 71, "height": 1, "data": {"values": [{"s": 0}]}, "mark": {"type": "point", "opacity": 0}},
  {
    "width": 142, "height": 192,
    "title": {"text": "F", "dx": -73.5, "dy": 27},
    "layer": [
      {
        "encoding": {
          "x": {"type": "nominal", "scale": {"domain": ["CD8⁺","CD4⁺","Tregs"], "paddingInner": 0.33, "paddingOuter": 0.16}, "axis": {"title": null, "labelAngle": 0, "ticks": false, "labelFontSize": 12, "labelPadding": 4}},
          "y": {"type": "quantitative", "scale": {"domain": [0, 1991000], "nice": false}, "axis": {"values": [0, 500000, 1000000, 1500000], "labelExpr": "datum.value == 0 ? '0' : datum.value >= 1000000 ? format(datum.value / 1000000, '.1f') + '×10⁶' : format(datum.value / 100000, '.1f') + '×10⁵'", "domain": false, "title": "Total Cell #", "titleFontSize": 12, "titleFontWeight": "bold", "titleX": -58, "titleY": 122, "titleAlign": "center", "titleBaseline": "middle", "titleAngle": 270, "labelFontSize": 11}}
        },
        "layer": [
          {"data": {"name": "bars"}, "transform": [{"filter": "datum.p == 'F'"}], "mark": {"type": "bar", "fill": "white", "stroke": "black", "strokeWidth": 1.5}, "encoding": {"x": {"field": "cell"}, "y": {"field": "m"}}},
          {"data": {"name": "bars"}, "transform": [{"filter": "datum.p == 'F'"}], "mark": {"type": "errorbar", "ticks": {"size": 13}, "color": "black"}, "encoding": {"x": {"field": "cell"}, "y": {"field": "m"}, "y2": {"field": "hi"}}},
          {"data": {"name": "brk"}, "transform": [{"filter": "datum.p == 'F'"}], "mark": {"type": "rule", "color": "black", "strokeWidth": 1.5}, "encoding": {"x": {"field": "from"}, "x2": {"field": "to"}, "y": {"field": "y"}}},
          {"data": {"name": "brk"}, "transform": [{"filter": "datum.p == 'F'"}], "mark": {"type": "point", "shape": "M0,-1L0,1", "size": 36, "filled": false, "color": "black", "strokeWidth": 1.5, "opacity": 1}, "encoding": {"x": {"field": "from"}, "y": {"field": "y"}}},
          {"data": {"name": "brk"}, "transform": [{"filter": "datum.p == 'F'"}], "mark": {"type": "point", "shape": "M0,-1L0,1", "size": 36, "filled": false, "color": "black", "strokeWidth": 1.5, "opacity": 1}, "encoding": {"x": {"field": "to"}, "y": {"field": "y"}}},
          {"data": {"name": "brk"}, "transform": [{"filter": "datum.p == 'F' && datum.ta == 'c'"}], "mark": {"type": "text", "align": "center", "baseline": "middle", "dy": -10, "fontSize": 12, "fontWeight": "bold"}, "encoding": {"x": {"field": "at"}, "y": {"field": "y"}, "text": {"field": "label"}}},
          {"data": {"name": "brk"}, "transform": [{"filter": "datum.p == 'F' && datum.ta == 'l'"}], "mark": {"type": "text", "align": "left", "baseline": "middle", "dx": 2, "dy": -10, "fontSize": 12, "fontWeight": "bold"}, "encoding": {"x": {"field": "at"}, "y": {"field": "y"}, "text": {"field": "label"}}},
          {"data": {"name": "heads"}, "transform": [{"filter": "datum.p == 'F'"}], "mark": {"type": "text", "align": "center", "baseline": "middle", "dx": -3, "fontSize": 22, "fontWeight": "bold"}, "encoding": {"x": {"datum": "CD4⁺"}, "y": {"datum": 1991000}, "text": {"field": "name"}}}
        ]
      },
      {"data": {"values": [{"a": 0}]}, "mark": {"type": "rule", "color": "black", "strokeWidth": 1.3}, "encoding": {"x": {"datum": 0, "type": "quantitative", "scale": {"domain": [0, 1]}, "axis": null}, "y": {"datum": 0, "type": "quantitative", "scale": {"domain": [0, 1991000], "nice": false}, "axis": null}, "y2": {"datum": 1500000}}}
    ],
    "resolve": {"scale": {"x": "independent", "y": "independent"}}
  }
  ]
 }
]
}
